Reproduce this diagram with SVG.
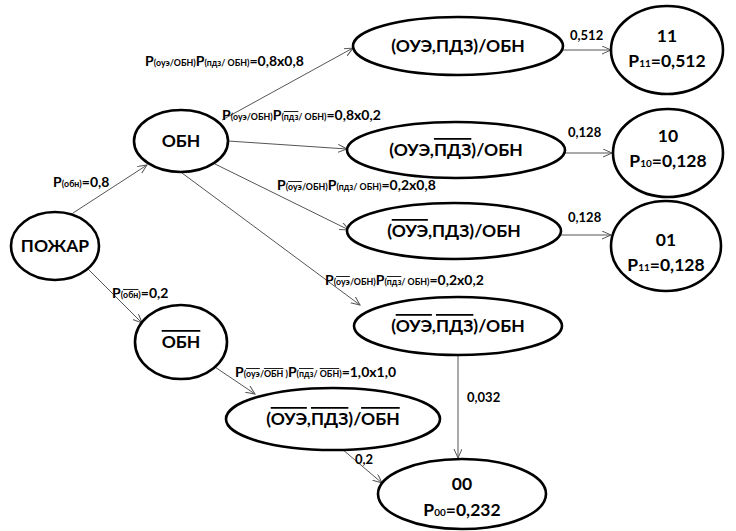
<svg xmlns="http://www.w3.org/2000/svg" width="736" height="531" viewBox="0 0 736 531">
<defs>
<style>
.node ellipse{fill:#fff;stroke:#000;stroke-width:2.6}
.nt{font-family:Lato,"Liberation Sans",sans-serif;font-weight:bold;font-size:17.5px;fill:#000;text-anchor:middle}
.lbl{font-family:Lato,"Liberation Sans",sans-serif;font-weight:bold;font-size:14px;fill:#000}
.val{font-family:Lato,"Liberation Sans",sans-serif;font-weight:bold;font-size:13px;fill:#000}
.sub{font-size:8.8px}
.ov{text-decoration:overline}
.conn line{stroke:#555;stroke-width:1;marker-end:url(#arr)}
</style>
<marker id="arr" markerWidth="12" markerHeight="10" refX="9" refY="4" orient="auto" markerUnits="userSpaceOnUse">
<path d="M0,0 L9,4 L0,8" fill="none" stroke="#555" stroke-width="1"/>
</marker>
</defs>
<rect width="736" height="531" fill="#fff"/>
<g id="connectors" class="conn">
<line x1="73" y1="213" x2="147" y2="165"/>
<line x1="88" y1="269" x2="142" y2="323"/>
<line x1="222" y1="120" x2="353" y2="48"/>
<line x1="228" y1="141" x2="347" y2="149"/>
<line x1="215" y1="164" x2="349" y2="230"/>
<line x1="182" y1="173" x2="360" y2="305"/>
<line x1="212" y1="365" x2="255" y2="394"/>
<line x1="458" y1="355" x2="458" y2="458"/>
<line x1="342" y1="449" x2="382" y2="483"/>
<line x1="563" y1="50" x2="611" y2="50"/>
<line x1="565" y1="153" x2="612" y2="153"/>
<line x1="561" y1="235" x2="611" y2="235"/>
</g>
<g id="labels">
<text class="lbl" x="53" y="187">P<tspan class="sub">(обн)</tspan>=0,8</text>
<text class="lbl" x="112" y="298">P<tspan class="sub">(<tspan class="ov">обн</tspan>)</tspan>=0,2</text>
<text class="lbl" x="145" y="66">P<tspan class="sub">(оуэ/ОБН)</tspan>P<tspan class="sub">(пдз/ ОБН)</tspan>=0,8x0,8</text>
<text class="lbl" x="222" y="120">P<tspan class="sub">(оуэ/ОБН)</tspan>P<tspan class="sub">(<tspan class="ov">пдз</tspan>/ ОБН)</tspan>=0,8x0,2</text>
<text class="lbl" x="277" y="190">P<tspan class="sub">(<tspan class="ov">оуэ</tspan>/ОБН)</tspan>P<tspan class="sub">(пдз/ ОБН)</tspan>=0,2x0,8</text>
<text class="lbl" x="325" y="285">P<tspan class="sub">(<tspan class="ov">оуэ</tspan>/ОБН)</tspan>P<tspan class="sub">(<tspan class="ov">пдз</tspan>/ ОБН)</tspan>=0,2x0,2</text>
<text class="lbl" x="235" y="377">P<tspan class="sub">(<tspan class="ov">оуэ</tspan>/<tspan class="ov">ОБН</tspan> )</tspan>P<tspan class="sub">(<tspan class="ov">пдз</tspan>/ <tspan class="ov">ОБН</tspan>)</tspan>=1,0x1,0</text>
<text class="val" x="570" y="40">0,512</text>
<text class="val" x="568" y="137">0,128</text>
<text class="val" x="568" y="222">0,128</text>
<text class="val" x="467" y="402">0,032</text>
<text class="val" x="355" y="464">0,2</text>
</g>
<g id="pozhar" class="node"><ellipse cx="55" cy="246" rx="44" ry="34"/><text class="nt" x="55" y="252">ПОЖАР</text></g>
<g id="obn" class="node"><ellipse cx="181" cy="141" rx="47" ry="31"/><text class="nt" x="181" y="147">ОБН</text></g>
<g id="obn-bar" class="node"><ellipse cx="181" cy="342" rx="46" ry="37"/><text class="nt" x="181" y="348"><tspan class="ov">ОБН</tspan></text></g>
<g id="e1" class="node"><ellipse cx="458" cy="46" rx="105" ry="29"/><text class="nt" x="458" y="52">(ОУЭ,ПДЗ)/ОБН</text></g>
<g id="e2" class="node"><ellipse cx="456" cy="150" rx="109" ry="28"/><text class="nt" x="456" y="156">(ОУЭ,<tspan class="ov">ПДЗ</tspan>)/ОБН</text></g>
<g id="e3" class="node"><ellipse cx="454" cy="231" rx="107" ry="28"/><text class="nt" x="454" y="237">(<tspan class="ov">ОУЭ</tspan>,ПДЗ)/ОБН</text></g>
<g id="e4" class="node"><ellipse cx="458" cy="326" rx="104" ry="29"/><text class="nt" x="458" y="332">(<tspan class="ov">ОУЭ</tspan>,<tspan class="ov">ПДЗ</tspan>)/ОБН</text></g>
<g id="e5" class="node"><ellipse cx="333" cy="419" rx="107" ry="31"/><text class="nt" x="333" y="425">(<tspan class="ov">ОУЭ</tspan>,<tspan class="ov">ПДЗ</tspan>)/<tspan class="ov">ОБН</tspan></text></g>
<g id="n11" class="node"><ellipse cx="667" cy="50" rx="56" ry="44"/><text class="nt" x="667" y="42">11</text><text class="nt" x="667" y="67">P<tspan font-size="10">11</tspan>=0,512</text></g>
<g id="n10" class="node"><ellipse cx="668" cy="153" rx="55" ry="44"/><text class="nt" x="668" y="142">10</text><text class="nt" x="668" y="167">P<tspan font-size="10">10</tspan>=0,128</text></g>
<g id="n01" class="node"><ellipse cx="666" cy="246" rx="55" ry="45"/><text class="nt" x="666" y="246">01</text><text class="nt" x="666" y="271">P<tspan font-size="10">11</tspan>=0,128</text></g>
<g id="n00" class="node"><ellipse cx="462" cy="494" rx="84" ry="35"/><text class="nt" x="462" y="490">00</text><text class="nt" x="462" y="516">P<tspan font-size="10">00</tspan>=0,232</text></g>
</svg>
